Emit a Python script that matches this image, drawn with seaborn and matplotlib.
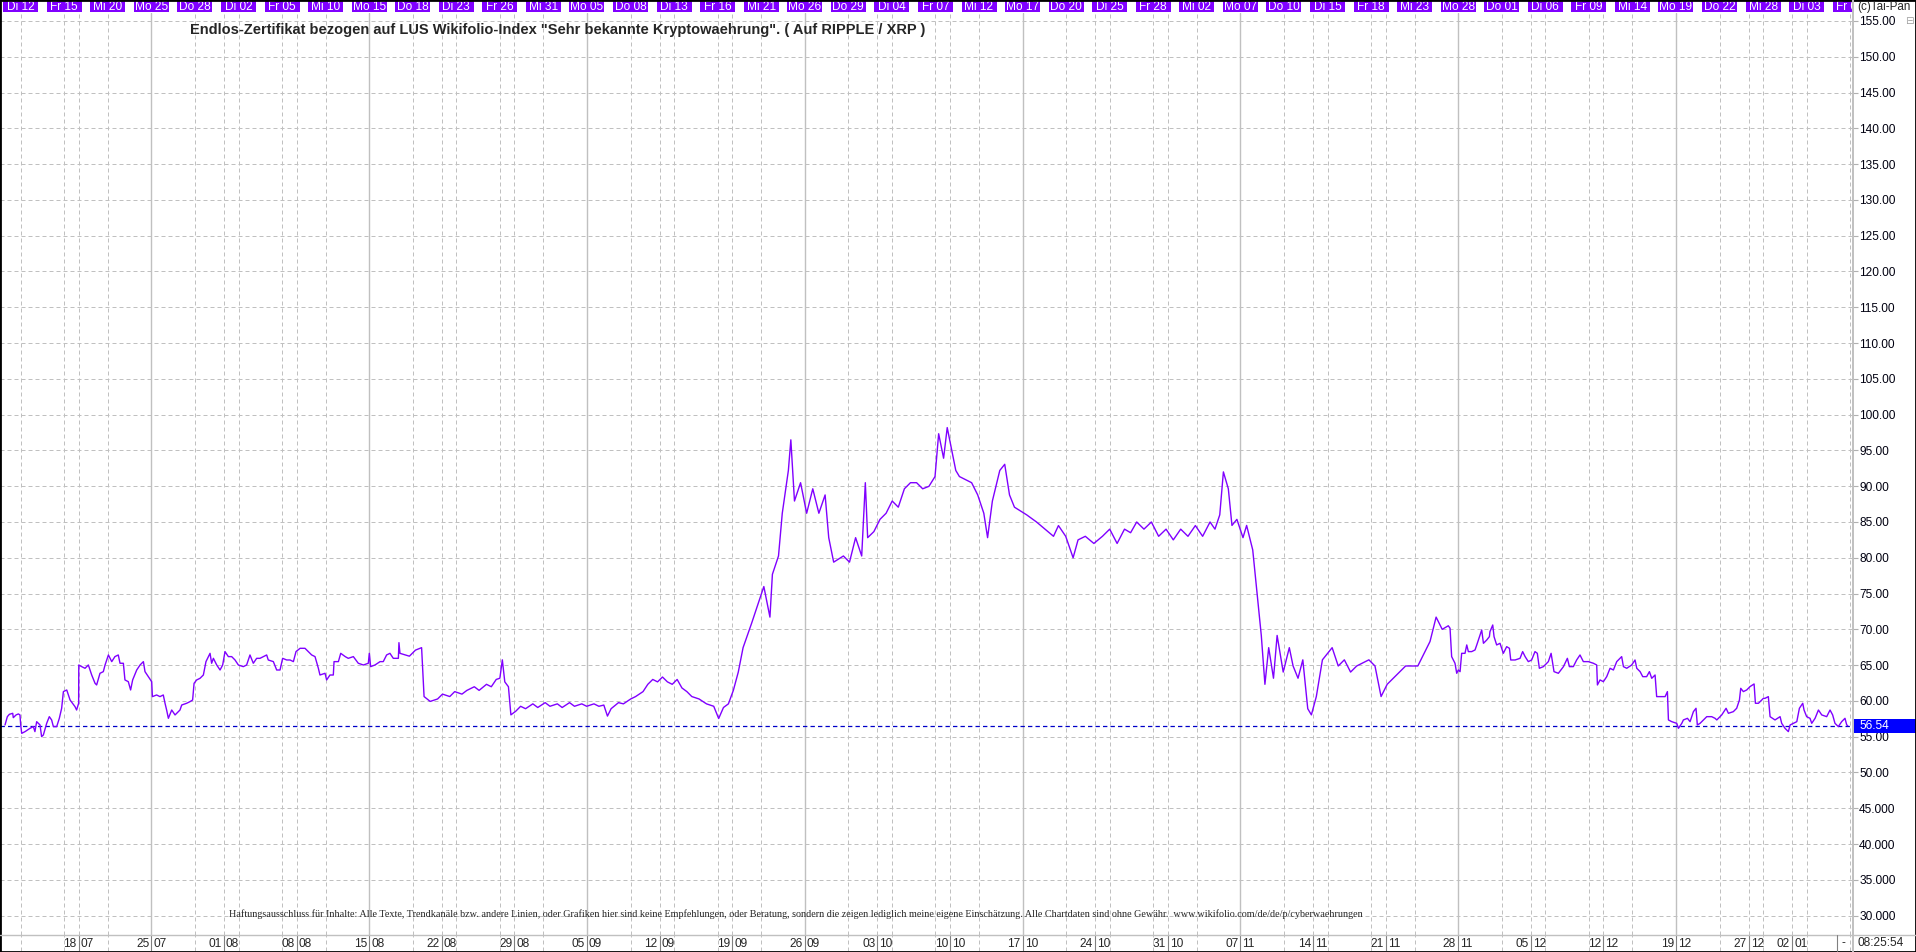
import matplotlib
matplotlib.use("Agg")
import matplotlib.pyplot as plt
import matplotlib.transforms as mtransforms
from matplotlib.patches import Rectangle
from matplotlib.lines import Line2D
import numpy as np
import pandas as pd
import seaborn as sns

# ---------------- data (trading-day index since Di 12.07., price) ----------------
seg_jul_aug = [
    (-1.08, 56.64), (-0.92, 57.80), (-0.78, 58.13), (-0.55, 58.27), (-0.51, 57.66), (-0.32, 58.04),
    (-0.16, 58.18), (-0.05, 58.04), (0.00, 56.64), (0.07, 55.47), (0.30, 55.71), (0.64, 56.17),
    (0.87, 56.41), (0.98, 55.71), (1.10, 57.10), (1.33, 56.64), (1.44, 55.01), (1.56, 55.24),
    (1.79, 56.87), (1.97, 57.80), (2.13, 57.34), (2.25, 56.41), (2.48, 56.41), (2.66, 57.57),
    (2.82, 58.97), (2.94, 61.30), (3.17, 61.53), (3.40, 60.13), (3.74, 59.20), (3.85, 58.73),
    (3.99, 59.67), (4.00, 65.02), (4.20, 64.79), (4.43, 64.56), (4.66, 65.02), (4.89, 63.62),
    (5.12, 62.46), (5.23, 62.23), (5.46, 63.86), (5.69, 64.09), (5.81, 65.02), (6.04, 66.42),
    (6.27, 65.49), (6.49, 66.19), (6.72, 66.42), (6.84, 65.26), (7.07, 65.26), (7.18, 62.93),
    (7.41, 62.69), (7.57, 61.53), (7.71, 62.93), (7.99, 64.32), (8.22, 65.02), (8.45, 65.49),
    (8.56, 64.09), (8.79, 63.39), (9.02, 62.69), (9.07, 60.60), (9.36, 60.83), (9.59, 60.60),
    (9.82, 60.83), (9.94, 59.67), (10.05, 58.73), (10.17, 57.57), (10.40, 58.73), (10.63, 58.04),
    (10.97, 58.73), (11.09, 59.43), (11.43, 59.67), (11.66, 59.90), (11.84, 60.13), (11.94, 62.46),
    (12.12, 62.93), (12.35, 63.16), (12.58, 63.62), (12.76, 65.49), (13.04, 66.65), (13.15, 65.26),
    (13.27, 65.95), (13.50, 65.02), (13.73, 64.32), (13.91, 65.02), (14.07, 66.89), (14.30, 66.19),
    (14.53, 66.19), (14.76, 65.72), (14.99, 65.02), (15.33, 64.79), (15.56, 65.02), (15.79, 66.42),
    (16.02, 65.26), (16.25, 65.95), (16.48, 65.95), (16.94, 66.42), (17.05, 65.72), (17.40, 65.49),
    (17.63, 64.32), (17.86, 64.32), (18.04, 65.95), (18.32, 65.72), (18.55, 65.72), (18.78, 65.49),
    (18.96, 66.89), (19.24, 67.35), (19.58, 67.35), (19.81, 66.89), (20.04, 66.42), (20.27, 66.19),
    (20.50, 64.56), (20.61, 63.62), (20.96, 63.86), (21.07, 62.93), (21.30, 63.62), (21.53, 63.62),
    (21.58, 65.49), (21.88, 65.49), (22.04, 66.65), (22.35, 66.19), (22.56, 65.95), (22.91, 66.19),
    (23.25, 65.26), (23.60, 65.02), (23.94, 65.26), (24.01, 66.65), (24.10, 64.79), (24.40, 65.02),
    (24.75, 65.49), (24.97, 65.49), (25.20, 66.42), (25.43, 66.65), (25.66, 65.95), (26.01, 65.95),
    (26.05, 68.14), (26.12, 66.65), (26.77, 66.25), (27.19, 67.10), (27.61, 67.44),
]
seg_aug_sep = [
    (27.78, 60.61), (28.20, 59.93), (28.71, 60.27), (29.05, 60.95), (29.55, 60.61), (29.89, 61.30),
    (30.39, 60.95), (30.73, 61.47), (31.24, 61.98), (31.57, 61.47), (32.08, 62.32), (32.41, 61.98),
    (32.75, 63.00), (33.00, 63.17), (33.17, 65.74), (33.34, 62.66), (33.59, 61.98), (33.76, 58.05),
    (34.10, 58.57), (34.43, 59.25), (34.77, 58.91), (35.27, 59.59), (35.61, 59.08), (36.12, 59.76),
    (36.45, 59.25), (36.96, 59.59), (37.29, 59.08), (37.80, 59.76), (38.14, 59.25), (38.64, 59.59),
    (38.98, 59.25), (39.48, 59.59), (39.82, 59.25), (40.16, 59.42), (40.41, 57.88), (40.66, 58.91),
    (41.17, 59.76), (41.51, 59.59), (42.01, 60.27), (42.35, 60.61), (42.86, 61.30), (43.19, 62.32),
    (43.53, 63.00), (43.86, 62.66), (44.20, 63.34), (44.54, 62.66), (44.87, 62.32), (45.21, 63.00),
    (45.54, 61.81), (45.88, 61.30), (46.22, 60.61), (46.72, 60.27), (47.23, 59.59), (47.73, 59.25),
    (48.07, 57.54), (48.40, 59.08), (48.74, 59.59), (49.08, 61.47), (49.42, 64.03), (49.75, 67.44),
]
seg_sep_nov = [
    (50.34, 70.86), (50.76, 73.42), (51.18, 75.98), (51.60, 71.71), (51.77, 77.69), (52.19, 80.25),
    (52.45, 86.22), (52.87, 92.20), (53.04, 96.48), (53.29, 87.93), (53.71, 90.49), (54.13, 86.22),
    (54.55, 89.64), (54.97, 86.22), (55.40, 88.78), (55.65, 82.81), (55.99, 79.39), (56.66, 80.25),
    (57.08, 79.39), (57.50, 82.81), (57.92, 80.25), (58.17, 90.49), (58.33, 82.81), (58.76, 83.66),
    (59.18, 85.37), (59.60, 86.22), (60.02, 87.93), (60.44, 87.07), (60.86, 89.64), (61.28, 90.49),
    (61.70, 90.49), (62.12, 89.64), (62.55, 89.98), (62.97, 91.35), (63.22, 97.33), (63.56, 93.91),
    (63.81, 98.19), (64.06, 95.62), (64.40, 92.20), (64.65, 91.35), (65.49, 90.49), (65.91, 88.78),
    (66.33, 86.22), (66.59, 82.81), (66.92, 87.93), (67.43, 92.20), (67.77, 93.06), (68.10, 88.78),
    (68.44, 87.07), (69.28, 86.00), (69.96, 85.00), (70.54, 84.00), (71.13, 83.00), (71.47, 84.50),
    (71.97, 83.00), (72.48, 80.00), (72.82, 82.50), (73.32, 83.00), (73.91, 82.00), (74.50, 83.00),
    (75.00, 84.00), (75.51, 82.00), (76.02, 84.00), (76.44, 83.50), (76.86, 85.00), (77.36, 84.00),
    (77.87, 85.00), (78.37, 83.00), (78.88, 84.00), (79.38, 82.50), (79.89, 84.00), (80.39, 83.00),
    (80.90, 84.50), (81.40, 83.00), (81.91, 85.00), (82.25, 84.00), (82.58, 86.00), (82.83, 92.00),
    (83.17, 89.64), (83.42, 84.52), (83.76, 85.37), (84.18, 82.81), (84.43, 84.52), (84.85, 81.10),
    (85.02, 77.69), (85.27, 72.56), (85.44, 69.15), (85.69, 62.32), (85.95, 67.44), (86.28, 63.17),
    (86.53, 69.15), (86.95, 64.03), (87.37, 67.44), (87.63, 64.88), (87.97, 63.17), (88.30, 65.74),
    (88.64, 58.91), (88.89, 58.05), (89.23, 60.61), (89.65, 65.74), (90.32, 67.44), (90.74, 64.88),
    (91.16, 65.74), (91.59, 64.03), (92.01, 64.88), (92.85, 65.74), (93.27, 64.88), (93.69, 60.61),
    (94.11, 62.32), (94.53, 63.17), (94.95, 64.03), (95.38, 64.88), (96.22, 64.88), (96.64, 66.59),
    (97.06, 68.30), (97.48, 71.71), (97.90, 70.00), (98.32, 70.50),
]
seg_dec_jan = [
    (98.44, 70.15), (98.55, 66.19), (98.78, 65.26), (98.90, 63.86), (99.01, 64.32), (99.13, 64.09),
    (99.24, 66.65), (99.47, 66.65), (99.59, 67.82), (99.70, 66.89), (99.93, 66.89), (100.16, 67.12),
    (100.28, 67.82), (100.51, 69.21), (100.62, 69.91), (100.74, 68.05), (100.97, 68.52), (101.15, 68.98),
    (101.19, 69.68), (101.38, 70.61), (101.47, 68.98), (101.65, 67.82), (101.88, 68.05), (102.11, 66.65),
    (102.34, 67.58), (102.53, 67.35), (102.62, 65.72), (102.92, 65.72), (103.26, 65.95), (103.44, 66.89),
    (103.61, 66.19), (103.83, 65.49), (104.06, 65.72), (104.29, 66.89), (104.45, 66.65), (104.59, 64.56),
    (104.87, 64.79), (105.21, 65.49), (105.40, 66.65), (105.60, 64.09), (105.90, 63.86), (106.25, 64.79),
    (106.52, 65.95), (106.66, 64.79), (106.93, 64.79), (107.16, 65.72), (107.39, 66.42), (107.62, 65.49),
    (107.97, 65.49), (108.31, 65.26), (108.54, 65.02), (108.59, 62.23), (108.77, 62.93), (109.00, 62.69),
    (109.23, 63.39), (109.46, 64.56), (109.69, 64.32), (109.92, 65.49), (110.15, 65.95), (110.26, 66.19),
    (110.38, 64.79), (110.61, 64.56), (110.95, 65.02), (111.18, 65.72), (111.30, 64.56), (111.53, 64.09),
    (111.71, 63.39), (111.98, 63.39), (112.17, 64.09), (112.33, 63.16), (112.56, 63.62), (112.67, 60.60),
    (112.90, 60.60), (113.25, 60.60), (113.41, 61.30), (113.48, 57.34), (113.71, 57.10), (114.05, 56.87),
    (114.17, 56.17), (114.40, 56.87), (114.51, 57.34), (114.79, 57.57), (114.97, 57.10), (115.20, 58.50),
    (115.38, 58.97), (115.47, 56.64), (115.66, 56.87), (115.89, 57.34), (116.12, 57.80), (116.46, 57.80),
    (116.69, 57.57), (116.81, 57.34), (117.04, 57.80), (117.15, 58.04), (117.45, 58.97), (117.61, 58.27),
    (117.95, 58.50), (118.18, 58.97), (118.37, 60.13), (118.46, 61.76), (118.64, 61.30), (118.87, 61.53),
    (119.10, 62.00), (119.38, 62.37), (119.47, 59.67), (119.68, 59.67), (120.02, 60.36), (120.13, 60.36),
    (120.36, 60.60), (120.48, 57.80), (120.82, 57.34), (121.17, 57.80), (121.28, 56.87), (121.51, 56.17),
    (121.74, 55.71), (121.86, 56.64), (122.09, 56.87), (122.32, 57.10), (122.50, 58.97), (122.73, 59.67),
    (122.82, 58.73), (123.00, 57.80), (123.23, 57.57), (123.35, 56.87), (123.58, 57.57), (123.81, 58.73),
    (124.04, 58.04), (124.38, 57.80), (124.61, 58.73), (124.79, 58.04), (124.95, 56.87), (125.18, 56.41),
    (125.41, 57.10), (125.64, 57.57), (125.76, 56.64), (125.83, 56.54),
]
last_price = 56.54

top_tick_days = list(range(0, 127, 3))
top_tick_labels = ["Di 12", "Fr 15", "Mi 20", "Mo 25", "Do 28", "Di 02", "Fr 05", "Mi 10", "Mo 15",
                   "Do 18", "Di 23", "Fr 26", "Mi 31", "Mo 05", "Do 08", "Di 13", "Fr 16", "Mi 21",
                   "Mo 26", "Do 29", "Di 04", "Fr 07", "Mi 12", "Mo 17", "Do 20", "Di 25", "Fr 28",
                   "Mi 02", "Mo 07", "Do 10", "Di 15", "Fr 18", "Mi 23", "Mo 28", "Do 01", "Di 06",
                   "Fr 09", "Mi 14", "Mo 19", "Do 22", "Mi 28", "Di 03", "Fr 06"]
week_days = [4, 9, 14, 19, 24, 29, 34, 39, 44, 49, 54, 59, 64, 69, 74, 79, 84, 89, 94, 99, 104, 109, 114, 119, 122]
week_day_labels = ["18", "25", "01", "08", "15", "22", "29", "05", "12", "19", "26", "03", "10", "17",
                   "24", "31", "07", "14", "21", "28", "05", "12", "19", "27", "02"]
week_month_labels = ["07", "07", "08", "08", "08", "08", "08", "09", "09", "09", "09", "10", "10", "10",
                     "10", "10", "11", "11", "11", "11", "12", "12", "12", "12", "01"]
ytick_vals = list(range(30, 160, 5))
ytick_labels = ["30.000", "35.000", "40.000", "45.000"] + [f"{v:.2f}" for v in range(50, 160, 5)]

title_text = ('Endlos-Zertifikat bezogen auf LUS Wikifolio-Index "Sehr bekannte Kryptowaehrung". '
              '( Auf RIPPLE / XRP )')
disclaimer_text = ("Haftungsausschluss für Inhalte: Alle Texte, Trendkanäle bzw. andere Linien, oder Grafiken "
                   "hier sind keine Empfehlungen, oder Beratung, sondern die zeigen lediglich meine eigene "
                   "Einschätzung. Alle Chartdaten sind ohne Gewähr.  www.wikifolio.com/de/de/p/cyberwaehrungen")
copyright_text = "(c)Tai-Pan"
clock_text = "08:25:54"

# ---------------- layout ----------------
sns.set_style("white")
plt.rcParams["font.family"] = ["Liberation Sans", "DejaVu Sans"]

W, H = 1916, 952
fig = plt.figure(figsize=(W / 100, H / 100), dpi=100)
fig.patch.set_facecolor("white")


def fx(px):
    return px / W


def fy(py):
    return 1 - py / H


PX_PER_DAY = 14.52
X0_PX = 20.7
PX_PER_UNIT = 7.157
Y155_PX = 21.0


def day_at(px):
    return (px - X0_PX) / PX_PER_DAY


def val_at(py):
    return 155 - (py - Y155_PX) / PX_PER_UNIT


PLOT_R, PLOT_T, PLOT_B = 1853, 13, 935
ax = fig.add_axes([0, fy(PLOT_B), fx(PLOT_R), (PLOT_B - PLOT_T) / H])
axt = fig.add_axes([0, fy(PLOT_T), fx(PLOT_R), PLOT_T / H], sharex=ax)
axb = fig.add_axes([0, fy(951), fx(PLOT_R), (951 - PLOT_B) / H], sharex=ax)

GRID = "#c0c0c0"
DASH = (0, (4, 3))
PURPLE = "#8000ff"

df = pd.DataFrame(seg_jul_aug + seg_aug_sep + seg_sep_nov + seg_dec_jan, columns=["day", "price"])
sns.lineplot(data=df, x="day", y="price", ax=ax, color=PURPLE, linewidth=1.0,
             estimator=None, sort=False, zorder=5)

ax.set_xlim(day_at(0), day_at(PLOT_R))
ax.set_ylim(val_at(PLOT_B), val_at(PLOT_T))
ax.set_xlabel("")
ax.set_ylabel("")
ax.set_facecolor("white")
for s in ax.spines.values():
    s.set_visible(False)

ax.yaxis.tick_right()
ax.set_yticks(ytick_vals)
ax.set_yticklabels(ytick_labels)
ax.tick_params(axis="y", which="major", length=3.6, width=0.8, color="#b0b0b0", pad=0.8,
               labelsize=8.6, labelcolor="#000010", right=True, left=False)
ax.tick_params(axis="x", bottom=False, labelbottom=False)

for v in ytick_vals:
    ax.axhline(v, color=GRID, lw=0.72, ls=DASH, zorder=1)
solid_days = sorted(set(top_tick_days) & set(week_days))
for d in sorted(set(top_tick_days) | set(week_days)):
    if d in solid_days:
        ax.axvline(d, color=GRID, lw=1.0, ls="-", zorder=1)
    else:
        ax.axvline(d, color=GRID, lw=0.72, ls=DASH, zorder=1)

# last price line + box
ax.axhline(last_price, color="#0000c8", lw=0.9, ls=(0, (3.5, 2.5)), zorder=4)
trans = mtransforms.blended_transform_factory(ax.transAxes, ax.transData)
half = 7 / PX_PER_UNIT
ax.add_patch(Rectangle((1.0 + 1 / PLOT_R, last_price - half), 63 / PLOT_R, 2 * half,
                       transform=trans, clip_on=False, facecolor="#0000ff", edgecolor="none", zorder=10))
ax.text(1.0 + 6 / PLOT_R, last_price, f"{last_price:.2f}", transform=trans, color="white",
        ha="left", va="center", fontsize=8.6, zorder=11, clip_on=False)

# top strip with date boxes
axt.set_ylim(0, 1)
axt.axis("off")
box_w = 35 / PX_PER_DAY
for d, lab in zip(top_tick_days, top_tick_labels):
    axt.add_patch(Rectangle((d - box_w / 2, 0.08), box_w, 0.92, facecolor=PURPLE, edgecolor="none"))
    axt.text(d, 0.5, lab, color="white", ha="center", va="center", fontsize=8.6, clip_on=True)

# bottom strip with weekly labels
axb.set_ylim(0, 1)
axb.axis("off")
for d in top_tick_days:
    if d not in week_days:
        axb.axvline(d, color=GRID, lw=0.72, ls=DASH)
left_off = mtransforms.offset_copy(axb.transData, fig=fig, x=-2, y=0, units="dots")
right_off = mtransforms.offset_copy(axb.transData, fig=fig, x=2, y=0, units="dots")
for d, dd, mm in zip(week_days, week_day_labels, week_month_labels):
    axb.axvline(d, color="#808080", lw=0.8)
    axb.text(d, 0.45, dd, transform=left_off, ha="right", va="center", fontsize=8.6)
    axb.text(d, 0.45, mm, transform=right_off, ha="left", va="center", fontsize=8.6)

# frame lines
fig.add_artist(Line2D([fx(PLOT_R)] * 2, [0, 1], color="#c0c0c0", lw=1.4, transform=fig.transFigure))
fig.add_artist(Line2D([0, 1], [fy(PLOT_B)] * 2, color="#c0c0c0", lw=1.0, transform=fig.transFigure))
fig.add_artist(Line2D([fx(1837)] * 2, [fy(951), fy(PLOT_B)], color="#808080", lw=0.8,
                      transform=fig.transFigure))
fig.add_artist(Rectangle((0, 0), 1, 1, transform=fig.transFigure, fill=False, edgecolor="black", lw=2.0))

fig.text(fx(1842), fy(943), "-", ha="left", va="center", fontsize=8.6)
fig.text(fx(1858), fy(943), clock_text, ha="left", va="center", fontsize=8.6)
fig.text(fx(1857), fy(7), copyright_text, ha="left", va="center", fontsize=8.4)
fig.text(fx(1909), fy(21), "⊟", ha="center", va="center", fontsize=7.5, color="#a0a0a0",
         family=["DejaVu Sans"])

title = fig.text(fx(190), fy(30), title_text, ha="left", va="center", fontsize=9.4, weight="bold")
disc = fig.text(fx(229), fy(914), disclaimer_text, ha="left", va="center", fontsize=8,
                family=["Liberation Sans Narrow", "Liberation Serif", "DejaVu Sans"])

fig.canvas.draw()
renderer = fig.canvas.get_renderer()
for t, target in ((title, 727), (disc, 1130)):
    bb = t.get_window_extent(renderer)
    t.set_fontsize(t.get_fontsize() * target / bb.width)

fig.savefig("out.png", dpi=100, facecolor="white")
